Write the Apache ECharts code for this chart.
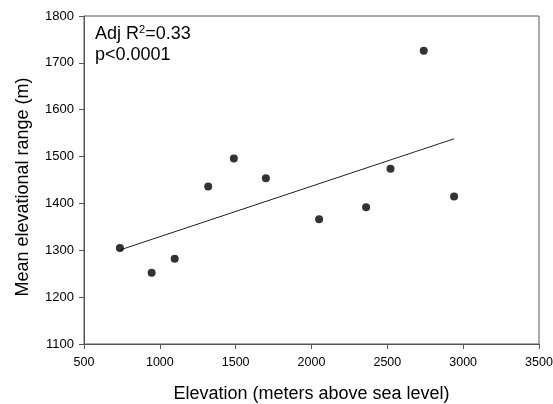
<!DOCTYPE html>
<html><head><meta charset="utf-8">
<script src="https://cdn.jsdelivr.net/npm/echarts@6/dist/echarts.min.js"></script>
<style>html,body{margin:0;padding:0;background:#fff}#c{width:553px;height:404px}</style>
</head><body><div id="c"></div>
<script>
var elevation = [737, 946, 1098, 1319, 1488, 1699, 2050, 2360, 2521, 2740, 2940];
var meanRange = [1305, 1252, 1282, 1436, 1496, 1454, 1366, 1392, 1474, 1726, 1415];
var fitX = [740, 2940];
var fitY = [1301, 1538];
var xTicks = [500, 1000, 1500, 2000, 2500, 3000, 3500];
var yTicks = [1100, 1200, 1300, 1400, 1500, 1600, 1700, 1800];

var font = 'Liberation Sans, Arial, sans-serif';
var chart = echarts.init(document.getElementById('c'));
chart.setOption({
  animation: false,
  grid: {left: 84, right: 14, top: 16, bottom: 60, containLabel: false, outerBoundsMode: 'none', show: true, borderColor: '#555', borderWidth: 1, backgroundColor: 'transparent'},
  xAxis: {
    type: 'value', min: xTicks[0], max: xTicks[xTicks.length-1], interval: 500,
    name: 'Elevation (meters above sea level)', nameLocation: 'middle', nameGap: 41,
    nameTextStyle: {fontFamily: font, fontSize: 18, color: '#000'},
    axisLine: {show: true, lineStyle: {color: '#555', width: 1}},
    axisTick: {show: true, length: 5, inside: false, lineStyle: {color: '#555'}},
    axisLabel: {fontFamily: font, fontSize: 12.5, color: '#000', margin: 12, formatter: function(v){return String(v);}},
    splitLine: {show: false}
  },
  yAxis: {
    type: 'value', min: yTicks[0], max: yTicks[yTicks.length-1], interval: 100,
    name: 'Mean elevational range (m)', nameLocation: 'middle', nameGap: 52,
    nameTextStyle: {fontFamily: font, fontSize: 18, color: '#000', padding: [0, 14, 0, 0]},
    axisLine: {show: true, lineStyle: {color: '#555', width: 1}},
    axisTick: {show: true, length: 5, inside: false, lineStyle: {color: '#555'}},
    axisLabel: {fontFamily: font, fontSize: 13, color: '#000', margin: 10, formatter: function(v){return String(v);}},
    splitLine: {show: false}
  },
  graphic: [{
    type: 'text', left: 95, top: 24,
    style: {
      text: '{a|Adj R}{s|2}{a|=0.33}\n{a|p<0.0001}',
      rich: {
        a: {fontFamily: font, fontSize: 18, fill: '#000', lineHeight: 21},
        s: {fontFamily: font, fontSize: 11, fill: '#000', verticalAlign: 'top', lineHeight: 21, padding: [0,0,12,0]}
      }
    }
  }],
  series: [{
    type: 'line', data: fitX.map(function(x, i){return [x, fitY[i]];}),
    showSymbol: false, symbol: 'none', lineStyle: {color: '#222', width: 1}, z: 1, silent: true
  }, {
    type: 'scatter', data: elevation.map(function(x, i){return [x, meanRange[i]];}),
    symbol: 'circle', symbolSize: 8, itemStyle: {color: '#000'}, z: 3
  }]
});
</script></body></html>
